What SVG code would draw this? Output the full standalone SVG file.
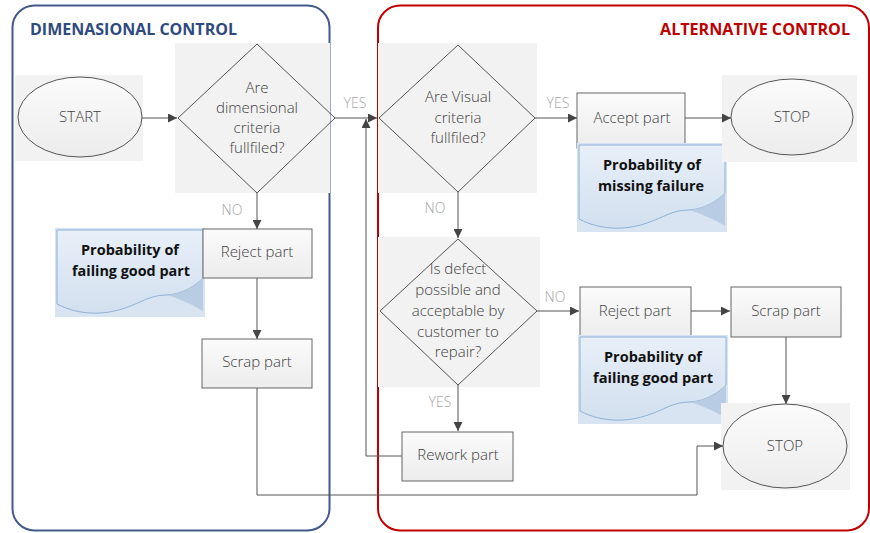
<svg xmlns="http://www.w3.org/2000/svg" xmlns:xlink="http://www.w3.org/1999/xlink" width="870" height="533" viewBox="0 0 870 533">
<defs>
<linearGradient id="boxg" x1="0" y1="0" x2="0" y2="1"><stop offset="0" stop-color="#fbfbfb"/><stop offset="1" stop-color="#ececec"/></linearGradient>
<linearGradient id="noteg" x1="0" y1="0" x2="0" y2="1"><stop offset="0" stop-color="#e8eff8"/><stop offset="1" stop-color="#d2e0ef"/></linearGradient>
<marker id="arr" viewBox="0 0 10 10" refX="10" refY="5" markerWidth="9" markerHeight="9" markerUnits="userSpaceOnUse" orient="auto"><path d="M0,0 L10,5 L0,10 Z" fill="#444"/></marker>
<g id="note">
<rect x="0" y="0" width="150" height="89" fill="#d8e4f1"/>
<path d="M2,2 H148 V50 C140,58 128,66 112,67 C95,67 88,74 70,80 C50,87 25,88 2,76 Z" fill="url(#noteg)" stroke="#8eb1d9" stroke-width="1"/>
<path d="M148,50 C140,58 128,66 112,67 C125,71 138,77 148,83 Z" fill="#b8cce3"/>
</g>
</defs>
<style>
.cont{fill:none;stroke-width:2}
.bg{fill:#f2f2f2}
.box{fill:url(#boxg);stroke:#666;stroke-width:1}
.shape{fill:none;stroke:#555;stroke-width:1}
.ell{fill:url(#boxg);stroke:#555;stroke-width:1}
.t{font-family:"Open Sans","DejaVu Sans",sans-serif;font-size:15px;font-weight:300;fill:#404040;text-anchor:middle}
.lbl{font-family:"Open Sans","DejaVu Sans",sans-serif;font-size:14px;font-weight:300;fill:#a6a6a6;text-anchor:middle}
.nt{font-family:"Open Sans","DejaVu Sans",sans-serif;font-size:15px;font-weight:bold;fill:#111;text-anchor:middle}
.title{font-family:"Open Sans","DejaVu Sans",sans-serif;font-size:16px;font-weight:bold}
.c{fill:none;stroke:#555;stroke-width:1}
</style>
<rect width="870" height="533" fill="#fff"/>
<g id="dimensional-control">
<rect class="cont" x="12.5" y="5.5" width="317" height="525" rx="22" stroke="#43598c"/>
<text class="title" x="30" y="35" fill="#2f4a7f" textLength="207" lengthAdjust="spacingAndGlyphs">DIMENASIONAL CONTROL</text>
</g>
<g id="alternative-control">
<rect class="cont" x="378" y="5.5" width="491" height="525" rx="22" stroke="#c00000"/>
<text class="title" x="660" y="35" fill="#c00000" textLength="190" lengthAdjust="spacingAndGlyphs">ALTERNATIVE CONTROL</text>
</g>
<g id="start">
<rect class="bg" x="15" y="75" width="128" height="86"/>
<ellipse class="ell" cx="80" cy="117" rx="62" ry="40"/>
<text class="t" x="80" y="122">START</text>
</g>
<g id="dimensional-decision">
<rect class="bg" x="175" y="43" width="155" height="150"/>
<path class="shape" d="M257,44 L335,118 L257,193 L178,118 Z"/>
<text class="t" x="257" y="93">Are</text>
<text class="t" x="257" y="113">dimensional</text>
<text class="t" x="257" y="133">criteria</text>
<text class="t" x="257" y="153">fullfiled?</text>
</g>
<g id="note-failing-good-1">
<use xlink:href="#note" x="55" y="228"/>
<text class="nt" x="130" y="255" textLength="98" lengthAdjust="spacingAndGlyphs">Probability of</text>
<text class="nt" x="131" y="276" textLength="118" lengthAdjust="spacingAndGlyphs">failing good part</text>
</g>
<g id="reject-part-1">
<rect class="box" x="203" y="229" width="109" height="49"/>
<text class="t" x="257" y="257">Reject part</text>
</g>
<g id="scrap-part-1">
<rect class="box" x="202" y="339" width="110" height="49"/>
<text class="t" x="257" y="367">Scrap part</text>
</g>
<g id="visual-decision">
<rect class="bg" x="378" y="43" width="159" height="150"/>
<path class="shape" d="M458,45 L535,118 L458,192 L379,118 Z"/>
<text class="t" x="458" y="102">Are Visual</text>
<text class="t" x="458" y="123">criteria</text>
<text class="t" x="458" y="143">fullfiled?</text>
</g>
<g id="accept-part">
<rect class="box" x="577" y="93" width="108" height="55"/>
<text class="t" x="632" y="123">Accept part</text>
</g>
<g id="note-missing-failure">
<use xlink:href="#note" x="577" y="143"/>
<text class="nt" x="652" y="170" textLength="98" lengthAdjust="spacingAndGlyphs">Probability of</text>
<text class="nt" x="651" y="191" textLength="106" lengthAdjust="spacingAndGlyphs">missing failure</text>
</g>
<g id="stop-1">
<rect class="bg" x="722" y="75" width="135" height="87"/>
<ellipse class="ell" cx="792" cy="117" rx="61" ry="38"/>
<text class="t" x="792" y="122">STOP</text>
</g>
<g id="repair-decision">
<rect class="bg" x="378" y="237" width="162" height="150"/>
<path class="shape" d="M458,239 L537,311 L458,385 L380,311 Z"/>
<text class="t" x="458" y="274">Is defect</text>
<text class="t" x="458" y="295">possible and</text>
<text class="t" x="458" y="316">acceptable by</text>
<text class="t" x="458" y="337">customer to</text>
<text class="t" x="458" y="357">repair?</text>
</g>
<g id="reject-part-2">
<rect class="box" x="580" y="287" width="111" height="52"/>
<text class="t" x="635" y="316">Reject part</text>
</g>
<g id="note-failing-good-2">
<use xlink:href="#note" x="578" y="335"/>
<text class="nt" x="653" y="362" textLength="98" lengthAdjust="spacingAndGlyphs">Probability of</text>
<text class="nt" x="653" y="383" textLength="120" lengthAdjust="spacingAndGlyphs">failing good part</text>
</g>
<g id="scrap-part-2">
<rect class="box" x="731" y="287" width="110" height="50"/>
<text class="t" x="786" y="316">Scrap part</text>
</g>
<g id="stop-2">
<rect class="bg" x="721" y="403" width="129" height="87"/>
<ellipse class="ell" cx="785" cy="446" rx="62" ry="42"/>
<text class="t" x="785" y="451">STOP</text>
</g>
<g id="rework-part">
<rect class="box" x="402" y="432" width="111" height="49"/>
<text class="t" x="458" y="460">Rework part</text>
</g>
<g id="connectors">
<path class="c" d="M142,118 H177" marker-end="url(#arr)"/>
<path class="c" d="M335,118 H377" marker-end="url(#arr)"/>
<path class="c" d="M535,118 H577" marker-end="url(#arr)"/>
<path class="c" d="M685,118 H731" marker-end="url(#arr)"/>
<path class="c" d="M458,192 V238" marker-end="url(#arr)"/>
<path class="c" d="M537,311 H579" marker-end="url(#arr)"/>
<path class="c" d="M691,311 H730" marker-end="url(#arr)"/>
<path class="c" d="M786,337 V404" marker-end="url(#arr)"/>
<path class="c" d="M458,385 V431" marker-end="url(#arr)"/>
<path class="c" d="M402,456 H366 V119" marker-end="url(#arr)"/>
<path class="c" d="M257,193 V229" marker-end="url(#arr)"/>
<path class="c" d="M257,278 V339" marker-end="url(#arr)"/>
<path class="c" d="M257,388 V495 H697 V446 H723" marker-end="url(#arr)"/>
<text class="lbl" x="355" y="108">YES</text>
<text class="lbl" x="558" y="108">YES</text>
<text class="lbl" x="435" y="213">NO</text>
<text class="lbl" x="555" y="302">NO</text>
<text class="lbl" x="440" y="407">YES</text>
<text class="lbl" x="232" y="215">NO</text>
</g>
</svg>
